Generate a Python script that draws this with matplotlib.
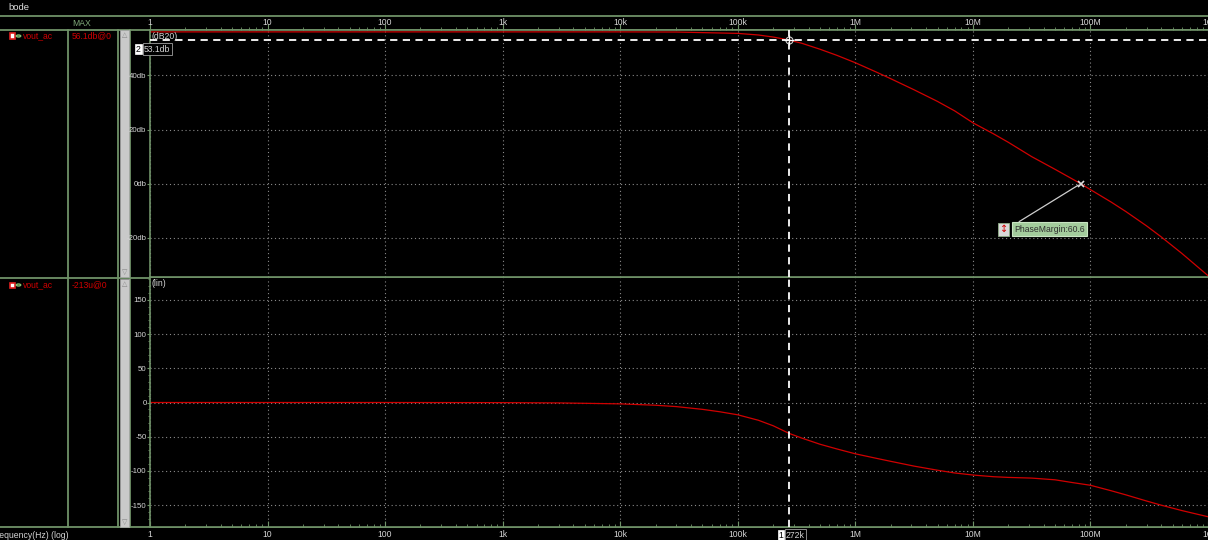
import matplotlib
matplotlib.use("Agg")
import matplotlib.pyplot as plt
import matplotlib.ticker as mticker
from matplotlib.lines import Line2D
from matplotlib.patches import Rectangle, Circle
import numpy as np

# gain trace vout_ac (dB20)
freq_gain = [1, 10, 100, 1e3, 1e4, 3e4, 1e5, 1.5e5, 2e5, 2.72e5, 3.5e5, 5e5, 7e5,
             1e6, 1.5e6, 2e6, 3.16e6, 5e6, 7e6, 1e7, 1.5e7, 2e7, 3.16e7, 5e7,
             8.26e7, 1e8, 1.5e8, 2e8, 3e8, 3.98e8, 6e8, 1e9]
gain_db = [56.1, 56.1, 56.1, 56.1, 56.1, 56.05, 55.55, 54.95, 54.2, 53.1, 51.9, 49.7, 47.4,
           44.7, 41.3, 38.8, 34.7, 30.4, 26.9, 22.5, 18.4, 15.3, 10.0, 5.3,
           0.0, -2.2, -6.8, -10.3, -15.6, -19.6, -25.8, -34.0]

# phase trace vout_ac (lin, degrees)
freq_phase = [1, 10, 100, 1e3, 3e3, 1e4, 2e4, 3e4, 5e4, 7e4, 1e5, 1.5e5, 2e5, 2.72e5,
              3.5e5, 5e5, 7e5, 1e6, 1.5e6, 2e6, 3.16e6, 5e6, 7e6, 1e7, 1.5e7, 2e7,
              3.16e7, 5e7, 7e7, 1e8, 1.5e8, 2e8, 3e8, 3.98e8, 6e8, 1e9]
phase_deg = [0, 0, 0, -0.2, -0.6, -2, -4, -6, -10, -13.5, -18, -26, -34, -45,
             -52, -61, -68, -75, -81.5, -86, -93, -99, -103, -106, -108.5, -109.5,
             -110.5, -113, -117, -121, -129, -135, -144, -150, -158, -167]

decade_ticks = [1, 10, 100, 1e3, 1e4, 1e5, 1e6, 1e7, 1e8, 1e9]
decade_labels = ['1', '10', '100', '1k', '10k', '100k', '1M', '10M', '100M', '1G']
gain_ticks = [-20, 0, 20, 40]
gain_labels = ['-20db', '0db', '20db', '40db']
phase_ticks = [-150, -100, -50, 0, 50, 100, 150]

cursor_freq = 2.72e5
cursor_gain = 53.1
ugf_freq = 8.26e7
phase_margin = 60.6

W, H = 1208, 540
BG = 'black'
GREEN = '#6f9268'
TXT = '#d4d4d4'
RED = '#d00000'
GRID = '#8a8a8a'
FS = 6.2

plt.rcParams['font.family'] = ['Liberation Sans', 'DejaVu Sans']
plt.rcParams['axes.unicode_minus'] = False


def fx(x):
    return x / W


def fy(y):
    return 1 - y / H


fig = plt.figure(figsize=(W / 100, H / 100), dpi=100, facecolor=BG)

ax1 = fig.add_axes([fx(150), fy(277), fx(W - 150), (277 - 30) / H], facecolor=BG)
ax2 = fig.add_axes([fx(150), fy(527), fx(W - 150), (527 - 278) / H], facecolor=BG)

for ax in (ax1, ax2):
    ax.set_xscale('log')
    ax.set_xlim(1, 1e9)
    ax.set_xticks(decade_ticks)
    ax.set_xticklabels(decade_labels)
    ax.xaxis.set_minor_locator(mticker.LogLocator(base=10, subs=np.arange(2, 10), numticks=20))
    ax.xaxis.set_minor_formatter(mticker.NullFormatter())
    ax.grid(True, which='major', color=GRID, linestyle=(0, (1, 2.5)), linewidth=0.8, zorder=3)
    ax.tick_params(axis='both', which='both', colors=GREEN, labelcolor=TXT, labelsize=FS, pad=1)
    ax.tick_params(axis='y', which='major', direction='out', length=2, pad=0.5, labelsize=5.7)
    ax.tick_params(axis='y', which='minor', direction='out', length=1.5)
    for sp in ax.spines.values():
        sp.set_color(GREEN)
        sp.set_linewidth(1.2)
    ax.spines['right'].set_visible(False)

# top panel: magnitude, frequency ruler above it
ax1.xaxis.tick_top()
ax1.tick_params(axis='x', which='both', top=True, labeltop=True, bottom=False,
                labelbottom=False, direction='out', pad=-1.5)
ax1.tick_params(axis='x', which='major', length=4)
ax1.tick_params(axis='x', which='minor', length=2.5)
ax1.set_ylim(-34.5, 56.8)
ax1.set_yticks(gain_ticks)
ax1.set_yticklabels(gain_labels)
ax1.plot(freq_gain, gain_db, color=RED, linewidth=0.9, zorder=2)
ax1.text(1.02, 54.3, '(dB20)', color=TXT, fontsize=FS, va='center', ha='left')

# bottom panel: phase, frequency ruler below it
ax2.tick_params(axis='x', which='both', direction='in', pad=2)
ax2.tick_params(axis='x', which='major', length=4)
ax2.tick_params(axis='x', which='minor', length=2.5)
ax2.set_ylim(-182, 182)
ax2.set_yticks(phase_ticks)
ax2.yaxis.set_minor_locator(mticker.MultipleLocator(10))
ax2.spines['top'].set_visible(False)
ax2.plot(freq_phase, phase_deg, color=RED, linewidth=0.9, zorder=2)
ax2.text(1.02, 174, '(lin)', color=TXT, fontsize=FS, va='center', ha='left')

# cursor at -3 dB point
dash = (0, (4, 3))
ax1.axhline(cursor_gain, color='white', linestyle=dash, linewidth=1.3, zorder=4)
ax1.axvline(cursor_freq, color='white', linestyle=dash, linewidth=1.3, zorder=4)
ax2.axvline(cursor_freq, color='white', linestyle=dash, linewidth=1.3, zorder=4)
ax1.plot([cursor_freq], [cursor_gain], marker='o', markersize=5, markerfacecolor='none',
         markeredgecolor='#cccccc', markeredgewidth=0.8, zorder=5)
ax1.plot([cursor_freq], [cursor_gain], marker='+', markersize=7, color='white',
         markeredgewidth=0.9, zorder=5)

# unity gain crossing with phase margin label
ax1.plot([ugf_freq], [0], marker='x', markersize=5, color='#dddddd', markeredgewidth=1.2, zorder=5)
ax1.annotate('PhaseMargin:%.1f' % phase_margin, xy=(ugf_freq, 0), xytext=(2.25e7, -16.8),
             fontsize=FS, color='#303030', ha='left', va='center', zorder=6,
             bbox=dict(boxstyle='square,pad=0.3', fc='#a3cc9c', ec='#c8e4c2', lw=0.8),
             arrowprops=dict(arrowstyle='-', color='#cfcfcf', lw=0.9, relpos=(0, 1),
                             shrinkA=0, shrinkB=2))
ax1.text(1.83e7, -16.8, '\u2195', fontsize=7, color=RED, ha='center', va='center', zorder=7,
         family='DejaVu Sans',
         bbox=dict(boxstyle='square,pad=0.15', fc='#d8d8d8', ec='#8fb088', lw=0.6))

# cursor value tags
fig.text(fx(138.5), fy(49), '2', color='black', fontsize=FS, ha='center', va='center',
         bbox=dict(boxstyle='square,pad=0.1', fc='white', ec='white', lw=0.5))
fig.text(fx(144), fy(49), '%.1fdb' % cursor_gain, color=TXT, fontsize=FS, ha='left', va='center',
         bbox=dict(boxstyle='square,pad=0.15', fc='black', ec='#a0a0a0', lw=0.6))
fig.text(fx(781), fy(535), '1', color='black', fontsize=FS, ha='center', va='center',
         bbox=dict(boxstyle='square,pad=0.1', fc='white', ec='white', lw=0.5))
fig.text(fx(786), fy(535), '%dk' % round(cursor_freq / 1e3), color=TXT, fontsize=FS,
         ha='left', va='center',
         bbox=dict(boxstyle='square,pad=0.15', fc='black', ec='#a0a0a0', lw=0.6))

# window frame: title bar, columns and separators
frame = [
    ((0, W), (16, 16)),
    ((0, W), (29.5, 29.5)),
    ((0, W), (277.5, 277.5)),
    ((0, W), (527, 527)),
    ((68, 68), (30, 527)),
    ((118, 118), (30, 527)),
    ((130, 130), (30, 527)),
]
for xs, ys in frame:
    fig.add_artist(Line2D([fx(xs[0]), fx(xs[1])], [fy(ys[0]), fy(ys[1])],
                          color=GREEN, linewidth=1.3, zorder=-1))

for y0, y1 in ((30, 277), (279, 527)):
    fig.add_artist(Rectangle((fx(120), fy(y1)), fx(9), (y1 - y0) / H, zorder=-1,
                             facecolor='#c9c9c9', edgecolor='#a8a8a8', linewidth=0.5))
    fig.text(fx(124.5), fy(y0 + 5), '\u25b3', color='#888888', fontsize=5, ha='center',
             va='center', family='DejaVu Sans')
    fig.text(fx(124.5), fy(y1 - 5), '\u25bd', color='#888888', fontsize=5, ha='center',
             va='center', family='DejaVu Sans')

fig.text(fx(8), fy(8), 'bode', color='#e0e0e0', fontsize=6.8, ha='left', va='center')
fig.text(fx(72), fy(24), 'MAX', color='#7fa878', fontsize=FS, ha='left', va='center')

for y, val in ((36, '56.1db@0'), (285, '-213u@0')):
    fig.add_artist(Rectangle((fx(9.5), fy(y + 2.5)), fx(5), 5 / H,
                             facecolor='white', edgecolor='#e02020', linewidth=1.2))
    fig.add_artist(Circle((fx(18.5), fy(y)), 2.2 / W, facecolor='none',
                          edgecolor='#7fc070', linewidth=1.0))
    fig.text(fx(23), fy(y), 'vout_ac', color=RED, fontsize=FS, ha='left', va='center')
    fig.text(fx(72), fy(y), val, color=RED, fontsize=FS, ha='left', va='center')

fig.text(fx(-9), fy(535), 'Frequency(Hz) (log)', color=TXT, fontsize=FS, ha='left', va='center')

fig.savefig('out.png', dpi=100, facecolor=BG)
